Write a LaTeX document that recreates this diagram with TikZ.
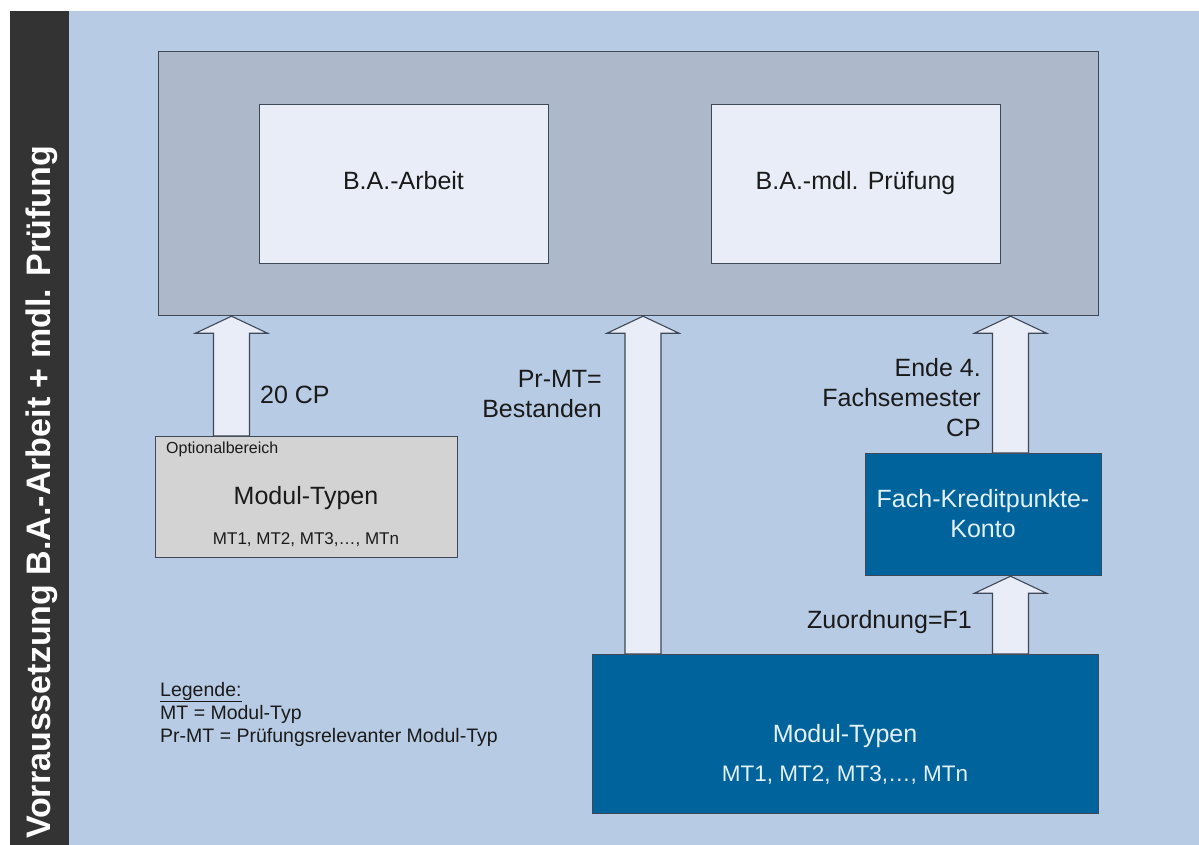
\documentclass[tikz,border=0pt]{standalone}
\usepackage{fontspec}
\setmainfont{Liberation Sans}
\usetikzlibrary{calc}
\definecolor{bgblue}{HTML}{B8CBE4}
\definecolor{bigbox}{HTML}{ADB9CA}
\definecolor{innerbox}{HTML}{E8EDF8}
\definecolor{optbox}{HTML}{D3D3D3}
\definecolor{darkblue}{HTML}{00639C}
\definecolor{lighttext}{HTML}{E4F0FA}
\definecolor{bordercol}{HTML}{3E4857}
\definecolor{sidebar}{HTML}{333333}
\definecolor{textcol}{HTML}{1A1A1A}
\tikzset{
  box/.style={draw=bordercol, line width=1.2pt, rectangle, inner sep=0pt, anchor=north west},
  lbl/.style={inner sep=0pt, text=textcol, font=\fontsize{25}{30}\selectfont},
  blockarr/.style={draw=bordercol, line width=1.1pt, fill=innerbox, line join=miter},
}
\newcommand\blockarrow[3]{%
  \draw[blockarr] let \p1=(#2.north), \p2=(#3.south) in
   ({#1pt-18pt},\y1) -- ({#1pt-18pt},{\y2-17pt}) -- ({#1pt-36pt},{\y2-17pt}) --
   ({#1pt},\y2) -- ({#1pt+36pt},{\y2-17pt}) -- ({#1pt+18pt},{\y2-17pt}) --
   ({#1pt+18pt},\y1) -- cycle;}
\begin{document}
\begin{tikzpicture}[x=1pt,y=1pt]
\useasboundingbox (0,0) rectangle (1199,-845);
\fill[white] (0,0) rectangle (1199,-845);
\fill[bgblue] (69,-11) rectangle (1199,-845);
\fill[sidebar] (10,-11) rectangle (69,-845);
\node[rotate=90, anchor=base, inner sep=0pt, text=white, font=\bfseries\fontsize{34}{40}\selectfont] (side) at (50,-492.5) {Vorraussetzung B.A.-Arbeit + mdl. Prüfung};

% main box with inner boxes
\node[box, fill=bigbox, minimum width=940pt, minimum height=264pt] (big) at (158,-51) {};
\node[box, fill=innerbox, minimum width=289pt, minimum height=159pt] (arbeit) at (259,-104) {};
\node[box, fill=innerbox, minimum width=289pt, minimum height=159pt] (pruef) at (711,-104) {};
\node[lbl, anchor=base] (tarbeit) at (403.5,-190) {B.A.-Arbeit};
\node[lbl, anchor=base] (tpruef) at (855.5,-190) {B.A.-mdl. Prüfung};

% optional area
\node[box, fill=optbox, minimum width=302pt, minimum height=121pt] (opt) at (155,-436) {};
\node[lbl, anchor=base west, font=\fontsize{16}{19}\selectfont] (topt) at (166,-453) {Optionalbereich};
\node[lbl, anchor=base] (toptmt) at (306,-504) {Modul-Typen};
\node[lbl, anchor=base, font=\fontsize{17}{20}\selectfont] (toptlist) at (306,-544) {MT1, MT2, MT3,…, MTn};

% credit account
\node[box, fill=darkblue, minimum width=236pt, minimum height=122pt] (fach) at (865,-453) {};
\node[lbl, anchor=base, text=lighttext] (tfach1) at (983,-507) {Fach-Kreditpunkte-};
\node[lbl, anchor=base, text=lighttext] (tfach2) at (983,-537) {Konto};

% module types
\node[box, fill=darkblue, minimum width=506pt, minimum height=159pt] (modul) at (592,-654) {};
\node[lbl, anchor=base, text=lighttext] (tmodul) at (845,-742) {Modul-Typen};
\node[lbl, anchor=base, text=lighttext, font=\fontsize{22.5}{27}\selectfont] (tmodlist) at (845,-781) {MT1, MT2, MT3,…, MTn};

% arrows
\blockarrow{231.5}{opt}{big}
\blockarrow{643}{modul}{big}
\blockarrow{1010.5}{fach}{big}
\blockarrow{1010.5}{modul}{fach}

% arrow labels
\node[lbl, anchor=base west] (l20) at (260,-403) {20 CP};
\node[lbl, anchor=base east] (lpr1) at (602,-387) {Pr-MT=};
\node[lbl, anchor=base east] (lpr2) at (602,-417) {Bestanden};
\node[lbl, anchor=base east] (lende1) at (981,-376) {Ende 4.};
\node[lbl, anchor=base east] (lende2) at (981,-406) {Fachsemester};
\node[lbl, anchor=base east] (lende3) at (981,-436) {CP};
\node[lbl, anchor=base east] (lzu) at (972,-628) {Zuordnung=F1};

% legend
\node[lbl, anchor=base west, font=\fontsize{19.5}{23}\selectfont] (leg1) at (160,-696) {\underline{Legende:}};
\node[lbl, anchor=base west, font=\fontsize{19.5}{23}\selectfont] (leg2) at (160,-719) {MT = Modul-Typ};
\node[lbl, anchor=base west, font=\fontsize{19.5}{23}\selectfont] (leg3) at (160,-742) {Pr-MT = Prüfungsrelevanter Modul-Typ};
\end{tikzpicture}
\end{document}
